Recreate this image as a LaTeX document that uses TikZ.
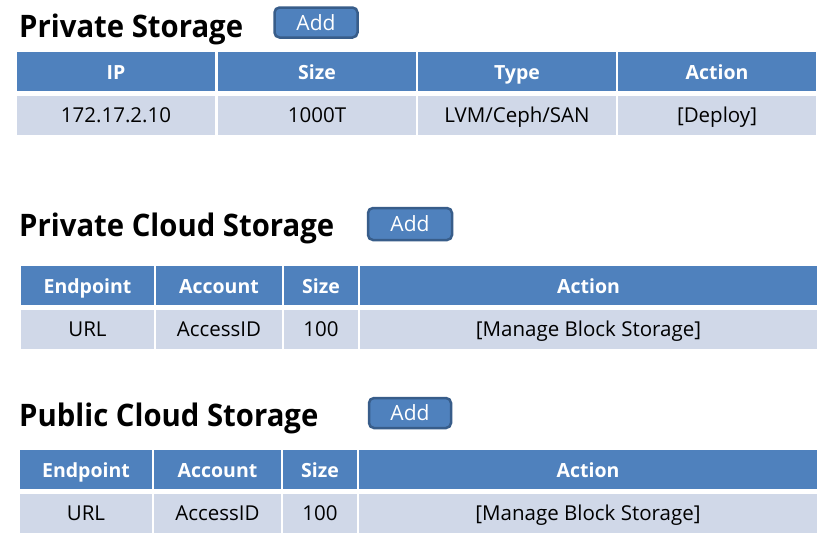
\documentclass[tikz,border=0pt]{standalone}
\usepackage{fontspec}
\setmainfont{Open Sans}
\newfontfamily\ttlfont{Open Sans}[FakeStretch=0.945]
\definecolor{hdrblue}{HTML}{4F81BD}
\definecolor{rowblue}{HTML}{D0D8E8}
\definecolor{btnedge}{HTML}{385D8A}
\newcommand\tcell[7]{\node[#6, minimum width={#4-#2}, minimum height={#5-#3}] (#1) at ({(#2+#4)/2},{(#3+#5)/2}) {#7};}
\tikzset{
  hdr/.style={inner sep=0pt, text height=18pt, text depth=2pt, fill=hdrblue, text=white, font=\fontsize{19.5}{22}\selectfont\bfseries},
  row/.style={inner sep=0pt, text height=16pt, text depth=3pt, fill=rowblue, text=black, font=\fontsize{20.5}{23}\selectfont},
  ttl/.style={anchor=base west, inner sep=0pt, font=\fontsize{31}{36}\ttlfont\bfseries},
  addbtn/.style={fill=hdrblue, draw=btnedge, line width=2.5pt, rounded corners=5pt, inner sep=0pt, text height=16pt, text depth=1pt, text=white, font=\fontsize{21}{26}\selectfont},
}
\begin{document}
\begin{tikzpicture}[x=1pt,y=-1pt]
\fill[white] (0,0) rectangle (819,541);
\useasboundingbox (0,0) rectangle (819,541);
% Private Storage
\node[ttl] (t1) at (19,37) {Private Storage};
\tcell{b1}{274.5}{7.5}{357.5}{37.5}{addbtn}{Add}
\tcell{h11}{17}{52}{215}{91}{hdr}{IP}
\tcell{h12}{218}{52}{416}{91}{hdr}{Size}
\tcell{h13}{418}{52}{616}{91}{hdr}{Type}
\tcell{h14}{618}{52}{816}{91}{hdr}{Action}
\tcell{r11}{17}{96}{215}{135}{row}{172.17.2.10}
\tcell{r12}{218}{96}{416}{135}{row}{1000T}
\tcell{r13}{418}{96}{616}{135}{row}{LVM/Ceph/SAN}
\tcell{r14}{618}{96}{816}{135}{row}{[Deploy]}
% Private Cloud Storage
\node[ttl] (t2) at (19,236) {Private Cloud Storage};
\tcell{b2}{368}{208}{452}{240}{addbtn}{Add}
\tcell{h21}{21}{266}{154}{305}{hdr}{Endpoint}
\tcell{h22}{156}{266}{282}{305}{hdr}{Account}
\tcell{h23}{284}{266}{358}{305}{hdr}{Size}
\tcell{h24}{360}{266}{817}{305}{hdr}{Action}
\tcell{r21}{21}{310}{154}{349}{row}{URL}
\tcell{r22}{156}{310}{282}{349}{row}{AccessID}
\tcell{r23}{284}{310}{358}{349}{row}{100}
\tcell{r24}{360}{310}{817}{349}{row}{[Manage Block Storage]}
% Public Cloud Storage
\node[ttl] (t3) at (19,426) {Public Cloud Storage};
\tcell{b3}{369}{398}{451}{428}{addbtn}{Add}
\tcell{h31}{20}{450}{152}{489}{hdr}{Endpoint}
\tcell{h32}{154}{450}{281}{489}{hdr}{Account}
\tcell{h33}{283}{450}{357}{489}{hdr}{Size}
\tcell{h34}{359}{450}{817}{489}{hdr}{Action}
\tcell{r31}{20}{494}{152}{533}{row}{URL}
\tcell{r32}{154}{494}{281}{533}{row}{AccessID}
\tcell{r33}{283}{494}{357}{533}{row}{100}
\tcell{r34}{359}{494}{817}{533}{row}{[Manage Block Storage]}
\end{tikzpicture}
\end{document}
